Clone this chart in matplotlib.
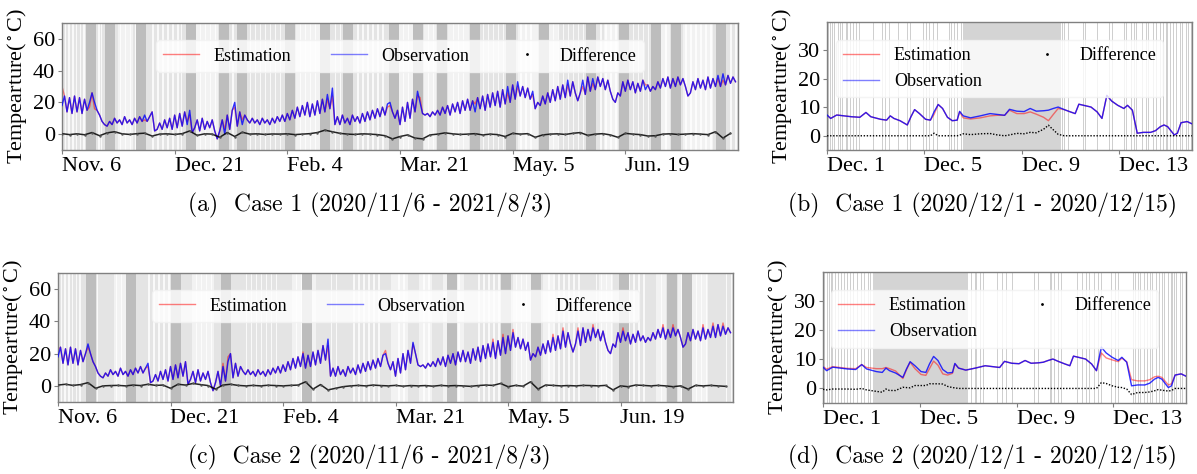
import numpy as np
import matplotlib
matplotlib.use("Agg")
import matplotlib.pyplot as plt
from matplotlib.lines import Line2D

plt.rcParams['font.family'] = ['Liberation Serif', 'DejaVu Serif']
plt.rcParams['mathtext.fontset'] = 'stix'

# ---------------- data: long period (days since 2020/11/6) ----------------
long_tick_days = [0, 45, 90, 135, 180, 225]
long_tick_labels = ['Nov. 6', 'Dec. 21', 'Feb. 4', 'Mar. 21', 'May. 5', 'Jun. 19']

obs_long = [18, 24, 14, 23, 13, 24, 14, 23, 13, 22, 15, 20, 26,
            20, 15, 12, 8, 6, 5,
            8, 6, 10, 7, 9, 6, 11, 7, 9, 6, 10, 7, 11, 8, 12, 8, 11,
            14, 2,
            3, 7, 3, 9, 4, 10, 3, 12, 4, 13, 5, 14, 6, 15,
            1, 4,
            9, 2, 10, 3, 8, 4, 9, 2,
            -3, 2,
            9, 0, 12, 3, 15, 20, 5, 14, 6, 12, 9,
            7, 10, 7, 9, 6, 10, 7, 9, 6, 10, 7, 11, 8, 12, 8,
            13, 9, 15, 10, 17, 11, 18, 12, 20, 11, 19, 12, 21, 13,
            22, 14, 25, 16, 29, 6,
            11, 6, 12, 7, 10, 6, 12, 8, 11, 7, 13, 8,
            14, 9, 15, 10, 16, 11, 17, 12, 19, 20,
            14, 10,
            15, 6, 17, 8, 20, 10, 22, 14, 27, 20, 13,
            12, 13, 11, 14, 12, 15,
            12, 17, 13, 18, 12, 19, 14, 20, 13, 21, 15, 22, 15, 21, 14, 23, 16, 24, 15, 25, 17, 26, 18, 27,
            17, 28, 19, 30, 20, 31, 22, 33, 24,
            30, 23, 29, 22, 27, 16,
            20, 18, 24, 19, 26, 20, 28, 21, 30, 22, 31, 23, 34, 24, 33, 26, 21,
            26, 34, 25, 36, 27, 35, 28, 36, 30, 35, 28, 34, 27,
            22, 20, 26, 24,
            33, 27, 34, 28, 33, 26, 32, 27, 34, 28, 31, 27, 30, 28, 33, 29, 35, 30, 36, 29, 35, 30, 36, 31, 35, 30,
            24, 26,
            33, 28, 35, 29, 34, 28, 36, 29, 35, 30, 37, 30, 38, 31, 37, 32, 36, 33]

# estimation differs from observation only on these days (day: value)
est_a_days = [0, 11, 13, 33, 50, 51, 65, 69, 72, 106, 108, 130, 131, 142, 143, 165, 178, 182, 188, 202, 208, 212, 233, 262, 264]
est_a_vals = [30, 17, 16, 9, 8, 12, 3, 17, 9, 22, 24, 17, 18, 24, 23, 19, 26, 30, 25, 31, 30, 32, 31, 35, 34]
est_c_days = [0, 12, 36, 66, 68, 98, 108, 131, 142, 174, 178, 182, 198, 202, 208, 214, 226, 242, 246, 258, 262, 266]
est_c_vals = [22, 24, 12, 14, 18, 21, 25, 22, 26, 29, 32, 35, 32, 36, 36, 38, 36, 38, 38, 38, 39, 39]

# difference, every 3 days
diff_a = [0.3, -0.3, 0.2, -0.4, 1.0, -1.0, 0.8, 1.5, 0.2, -0.2, 0.3, 0.6, -1.2, 0.0, 0.2, -0.2, 0.3, 2.0,
          -0.8, 0.2, 0.0, -2.0, 1.0, -1.5, 1.2, 0.0, 0.2, -0.2, 0.1, 0.0, 0.2, -0.3, 0.0, 0.3, 1.0, 2.5,
          1.5, 0.5, 0.0, -0.2, 0.2, 0.0, -0.3, -1.0, -3.0, -1.5, -0.5, -2.5, -3.0, -0.5, 0.0, 0.8, 0.2, -0.2,
          0.0, 0.3, -0.5, 0.0, -0.3, -1.5, 0.5, 0.0, 0.3, -2.0, -0.5, 0.0, 0.2, -0.2, 0.5, 1.0, -0.8, 0.0,
          0.3, -0.5, -2.0, 0.5, 0.0, -0.3, -1.2, -1.0, 0.0, 0.2, -0.2, 0.0, 0.3, 0.0, -0.3, 1.5, -2.5, 0.5]
diff_c = [0.5, 1.0, 0.3, 0.8, 2.0, -1.5, 0.0, 0.2, 0.3, 0.0, 0.5, 0.2, 1.0, 0.3, 0.5, -1.5, 1.0, 0.5,
          1.5, 0.8, 0.2, -2.0, 0.5, 1.0, 0.3, 0.0, 0.3, 0.0, 0.4, 0.2, 0.0, 0.3, 0.5, 2.5, -2.0, 0.8,
          -2.5, -1.5, -0.5, 0.0, 0.3, 0.0, 0.5, 0.2, 0.0, 0.3, -0.2, 0.2, 0.0, 0.2, -0.2, 0.3, 0.0, 0.2,
          0.0, -0.3, 0.2, 0.5, 0.3, 1.5, -0.5, 0.3, -0.2, 2.5, -2.0, 0.5, 0.3, 0.0, 0.2, 0.0, 0.3, 0.2,
          0.0, 0.3, -2.5, 0.0, -0.5, 0.5, 0.3, 0.0, 0.3, 0.0, -0.5, 0.0, -2.0, 0.3, 0.0, 0.3, 0.0, -0.3]

# background: dark 4-day bands (start day) and lighter stripes
bands_a = [9.6, 17.1, 29.6, 49.4, 62.9, 69.7, 89.2, 103.2, 112.4, 130.7, 140.2, 149.8, 162.9,
           177.3, 190.4, 209.2, 222.3, 235.1, 243.4, 261.4]
bands_c = [11.2, 27.05, 45.1, 65.1, 97.4, 155.4, 177.3, 189.3, 224.4, 243.6, 249.6]
white_iv_long = [(22.3, 28.3), (53.5, 62.5), (93.6, 103), (133, 140), (144.5, 149.5), (154, 162.5),
                 (182, 190), (194, 198), (216.3, 222), (239, 243), (248, 260)]
white_lines_long = [1, 2.5, 4, 5.5, 7, 8.5, 14.5, 15.5, 23, 25, 27, 29, 36, 38, 40, 42, 44, 46, 47.5,
                    55, 57, 59, 61, 68, 75, 77, 79, 81, 83, 85, 87, 95, 97, 99, 101, 109, 111, 118,
                    120, 122, 124, 126, 128, 136, 138, 146, 148, 156, 158, 160, 168, 170, 172, 174,
                    176, 183, 185, 187, 196, 198, 200, 202, 204, 206, 208, 215, 217, 219, 221, 228,
                    230, 232, 234, 241, 249, 251, 253, 255, 257, 259, 267, 269]

# ---------------- data: short period (days since 2020/12/1) ----------------
short_tick_days = [0, 4, 8, 12]
short_tick_labels = ['Dec. 1', 'Dec. 5', 'Dec. 9', 'Dec. 13']
t_short = [0, 0.15, 0.4, 0.7, 1.0, 1.35, 1.6, 1.8, 2.2, 2.45, 2.6, 2.75, 3.0, 3.3, 3.45, 3.6, 3.8,
           4.05, 4.25, 4.4, 4.57, 4.75, 4.95, 5.15, 5.35, 5.45, 5.6, 5.9, 6.3, 6.7, 7.0, 7.3, 7.5,
           7.8, 8.1, 8.35, 8.6, 8.9, 9.1, 9.3, 9.5, 9.75, 10.0, 10.2, 10.35, 10.55, 10.85, 11.1,
           11.3, 11.5, 11.7, 11.95, 12.2, 12.35, 12.55, 12.75, 13.0, 13.3, 13.5, 13.7, 13.85, 14.0,
           14.27, 14.4, 14.55, 14.8, 15.0]
obs_short = [7.3, 6.1, 7.3, 7.0, 6.7, 6.5, 8.2, 6.7, 5.8, 5.5, 7.0, 6.1, 5.3, 3.8, 6.7, 9.2, 7.8,
             5.8, 5.5, 8.4, 11.0, 9.6, 6.5, 5.3, 5.5, 8.6, 7.0, 6.3, 7.0, 7.8, 7.5, 7.2, 9.3,
             8.65, 8.5, 9.6, 8.65, 8.8, 9.0, 9.6, 10.1, 9.2, 8.4, 7.8, 11.1, 10.7, 10.1, 8.4,
             6.1, 14.2, 12.2, 10.7, 9.6, 10.7, 9.0, 0.9, 1.2, 1.2, 1.8, 3.2, 3.8, 3.2,
             0.3, 0.9, 4.6, 5.0, 4.2]
est_b = [7.3, 6.1, 7.3, 7.0, 6.7, 6.5, 8.2, 6.7, 5.8, 5.5, 7.0, 6.1, 5.3, 3.8, 6.7, 9.2, 7.8,
         5.8, 5.5, 7.5, 11.0, 9.6, 6.5, 5.3, 5.5, 8.4, 6.3, 5.9, 6.3, 7.0, 7.2, 7.2, 9.0,
         7.8, 7.8, 8.4, 7.6, 6.5, 5.3, 7.5, 9.6, 9.2, 8.4, 7.8, 11.1, 10.7, 10.1, 8.4,
         6.1, 14.2, 12.2, 10.7, 9.6, 10.7, 9.0, 0.9, 1.2, 1.2, 1.8, 3.2, 3.8, 3.2,
         0.3, 0.9, 4.6, 5.0, 4.2]
est_d = [7.6, 6.6, 7.5, 7.2, 6.9, 6.8, 8.2, 7.2, 6.8, 6.8, 7.2, 6.8, 6.0, 3.4, 6.4, 9.0, 6.8,
         4.8, 4.5, 6.8, 9.4, 8.0, 5.0, 4.6, 5.2, 8.4, 7.0, 6.3, 7.0, 7.8, 7.5, 7.2, 9.3,
         8.65, 8.5, 9.6, 8.65, 8.8, 9.0, 9.6, 10.1, 9.2, 8.4, 7.8, 11.1, 10.7, 10.1, 8.4,
         6.1, 12.2, 10.5, 9.8, 9.2, 10.4, 9.2, 3.0, 2.6, 2.6, 3.0, 4.0, 4.2, 3.8,
         1.2, 1.6, 4.6, 5.0, 4.2]
block_b = (5.6, 9.6)
block_d = (2.05, 6.0)
stripes_b = [0.05, 0.12, 0.2, 0.3, 0.45, 0.55, 0.62, 0.8, 0.95, 1.05, 1.2, 1.3, 1.9, 2.25, 2.4, 2.55,
             2.9, 3.3, 3.4, 3.95, 4.05, 4.2, 4.35, 4.5, 5.0, 5.1, 5.2, 5.35, 5.5, 9.65, 9.75, 9.9,
             10.5, 10.6, 11.1, 11.6, 11.7, 12.2, 12.3, 12.5, 12.6, 12.7, 12.95, 13.1, 13.2, 13.4,
             13.5, 13.7, 13.8, 13.95, 14.1, 14.2, 14.35, 14.5, 14.6, 14.75, 14.85, 14.95]
stripes_d = [0.05, 0.15, 0.25, 0.35, 0.5, 0.6, 0.75, 0.85, 1.0, 1.1, 1.25, 1.4, 1.55, 1.7, 1.85,
             1.95, 6.1, 6.3, 6.5, 6.6, 7.2, 7.4, 7.55, 7.8, 8.7, 8.9, 9.4, 9.55, 9.7, 9.85, 10.5,
             10.7, 10.85, 11.0, 11.2, 11.35, 11.5, 11.9, 12.05, 12.2, 12.8, 12.9, 13.0, 13.1,
             13.25, 13.4, 13.5, 13.6, 13.75, 13.9, 14.0, 14.1, 14.25, 14.4, 14.5, 14.6, 14.75, 14.85]

captions = ['(a)  Case 1 (2020/11/6 - 2021/8/3)', '(b)  Case 1 (2020/12/1 - 2020/12/15)',
            '(c)  Case 2 (2020/11/6 - 2021/8/3)', '(d)  Case 2 (2020/12/1 - 2020/12/15)']

# ---------------- drawing ----------------
W, H = 1197, 474
fig = plt.figure(figsize=(W / 100, H / 100), dpi=100)


def rect(x0, y0, x1, y1):
    return [x0 / W, 1 - y1 / H, (x1 - x0) / W, (y1 - y0) / H]


RED = dict(color='red', alpha=0.5, lw=1.0)
BLUE = dict(color='blue', alpha=0.8, lw=1.0)


def style_axes(ax, ticks, labels, xlim, ylim, yticks):
    ax.set_xlim(*xlim)
    ax.set_ylim(*ylim)
    ax.set_xticks(ticks)
    ax.set_xticklabels(labels, fontsize=16)
    for lab in ax.get_xticklabels():
        lab.set_ha('left')
    ax.set_yticks(yticks)
    ax.set_yticklabels([str(v) for v in yticks], fontsize=16)
    ax.tick_params(length=3, color='#808080', pad=2)
    for s in ax.spines.values():
        s.set_color('#808080')
        s.set_linewidth(1.0)
    ax.set_ylabel('Tempearture($^\\circ$C)', fontsize=16, labelpad=3)


def legend(ax, ncol, anchor, spacing):
    hs = [Line2D([], [], color='red', alpha=0.5, lw=1.0), Line2D([], [], color='blue', alpha=0.5, lw=1.0),
          Line2D([], [], color='k', marker='.', ls='none', markersize=2)]
    lg = ax.legend(hs, ['Estimation', 'Observation', 'Difference'], ncol=ncol, loc='upper center',
                   bbox_to_anchor=anchor, fontsize=13, frameon=True, framealpha=0.8,
                   facecolor='white', edgecolor='#f2f2f2', columnspacing=spacing, handlelength=2.0)
    lg.set_zorder(10)


def long_panel(r, est_days, est_vals, diff, bands):
    ax = fig.add_axes(r)
    ax.set_facecolor('#e4e4e4')
    for s, e in white_iv_long:
        ax.axvspan(s, e, color='white', alpha=0.55, lw=0, zorder=0)
    for p in white_lines_long:
        ax.axvspan(p, p + 0.6, color='white', alpha=0.8, lw=0, zorder=0)
    for s in bands:
        ax.axvspan(s, s + 4, color='#bdbdbd', lw=0, zorder=0.5)
    x = np.arange(len(obs_long))
    est = np.array(obs_long, dtype=float)
    est[est_days] = est_vals
    ax.plot(x, est, zorder=2, **RED)
    ax.plot(x, obs_long, zorder=3, **BLUE)
    xd = np.arange(len(diff)) * 3
    ax.plot(xd, diff, color='k', lw=1.1, alpha=0.85, zorder=4)
    ax.plot(xd, diff, color='#555555', ls='none', marker='.', markersize=1.5, zorder=4)
    style_axes(ax, long_tick_days, long_tick_labels, (0, 270), (-10, 70), [0, 20, 40, 60])
    legend(ax, 3, (0.5, 0.935), 2.2)
    return ax


def short_panel(r, est, block, stripes):
    ax = fig.add_axes(r)
    ax.set_facecolor('white')
    ax.axvspan(block[0], block[1], color='#d4d4d4', lw=0, zorder=0)
    for p in stripes:
        ax.axvspan(p, p + 0.045, color='#cfcfcf', lw=0, zorder=0)
    t = np.array(t_short)
    ax.plot(t, est, zorder=2, **RED)
    ax.plot(t, obs_short, zorder=3, **BLUE)
    diff = np.array(obs_short) - np.array(est)
    ax.plot(t, diff, color='k', lw=1.0, ls=(0, (1, 1.2)), zorder=4)
    style_axes(ax, short_tick_days, short_tick_labels, (0, 15), (-5, 40), [0, 10, 20, 30])
    legend(ax, 2, (0.473, 0.93), 2.6)
    return ax


long_panel(rect(62, 23, 738, 150), est_a_days, est_a_vals, diff_a, bands_a)
short_panel(rect(827, 22, 1192, 150), est_b, block_b, stripes_b)
long_panel(rect(58, 273, 733, 402), est_c_days, est_c_vals, diff_c, bands_c)
short_panel(rect(823, 272, 1186, 403), est_d, block_d, stripes_d)

cap_pos = [(370, 205), (982, 205), (369, 457), (982, 457)]
for (cx, cy), txt in zip(cap_pos, captions):
    fig.text(cx / W, 1 - cy / H, txt, ha='center', va='center', family='cmr10', fontsize=17)

fig.savefig('out.png', dpi=100)
